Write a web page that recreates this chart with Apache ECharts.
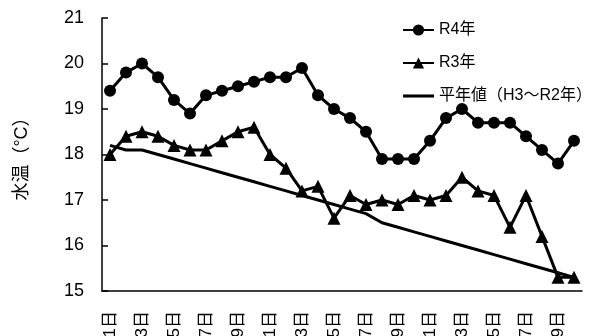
<!DOCTYPE html>
<html>
<head>
<meta charset="utf-8">
<script src="https://cdn.jsdelivr.net/npm/echarts@6/dist/echarts.min.js"></script>
<style>html,body{margin:0;padding:0;background:#fff}#c{width:589px;height:336px}</style>
</head>
<body>
<div id="c"></div>
<script>
const days = Array.from({length: 30}, (_, i) => (i + 1) + '日');
const r4 = [19.4,19.8,20.0,19.7,19.2,18.9,19.3,19.4,19.5,19.6,19.7,19.7,19.9,19.3,19.0,18.8,18.5,17.9,17.9,17.9,18.3,18.8,19.0,18.7,18.7,18.7,18.4,18.1,17.8,18.3];
const r3 = [18.0,18.4,18.5,18.4,18.2,18.1,18.1,18.3,18.5,18.6,18.0,17.7,17.2,17.3,16.6,17.1,16.9,17.0,16.9,17.1,17.0,17.1,17.5,17.2,17.1,16.4,17.1,16.2,15.3,15.3];
const normal = [18.2,18.1,18.1,18.0,17.9,17.8,17.7,17.6,17.5,17.4,17.3,17.2,17.1,17.0,16.9,16.8,16.7,16.5,16.4,16.3,16.2,16.1,16.0,15.9,15.8,15.7,15.6,15.5,15.4,15.3];
const names = ['R4年', 'R3年', '平年値（H3〜R2年）'];
const yAxisName = '水温（°C）';

const font = 'Liberation Sans, Arial, Noto Sans CJK JP, sans-serif';
const chart = echarts.init(document.getElementById('c'), null, {renderer: 'canvas'});
chart.setOption({
  animation: false,
  backgroundColor: '#fff',
  textStyle: {fontFamily: font, color: '#000'},
  grid: {left: 102, right: 7, top: 18, bottom: 45, containLabel: false, outerBoundsMode: 'none'},
  legend: {
    orient: 'vertical', left: 397, top: 17,
    itemWidth: 31, itemHeight: 14, itemGap: 17,
    textStyle: {fontSize: 16, color: '#000', fontFamily: font},
    data: [
      {name: names[0]},
      {name: names[1]},
      {name: names[2], icon: 'path://M0,0 L20,0 L20,2 L0,2 Z'}
    ]
  },
  xAxis: {
    type: 'category', data: days, boundaryGap: true,
    axisLine: {lineStyle: {color: '#000', width: 1.5}},
    axisTick: {inside: true, length: 6, interval: 0, lineStyle: {color: '#000', width: 1.5}},
    axisLabel: {interval: 1, rotate: 90, margin: 20, fontSize: 17, color: '#000', fontFamily: font}
  },
  yAxis: {
    type: 'value', min: 15, max: 21, interval: 1,
    name: yAxisName, nameLocation: 'middle', nameGap: 71, nameRotate: 90,
    nameTextStyle: {fontSize: 18, color: '#000', fontFamily: font},
    axisLine: {show: true, lineStyle: {color: '#000', width: 1.5}},
    axisTick: {show: true, inside: true, length: 6, lineStyle: {color: '#000', width: 1.5}},
    axisLabel: {margin: 18, fontSize: 18, color: '#000', fontFamily: font},
    splitLine: {show: false}
  },
  series: [
    {name: names[0], type: 'line', data: r4, symbol: 'circle', symbolSize: 12, showAllSymbol: true,
     lineStyle: {color: '#000', width: 3}, itemStyle: {color: '#000'}},
    {name: names[1], type: 'line', data: r3, symbol: 'triangle', symbolSize: 13, showAllSymbol: true,
     lineStyle: {color: '#000', width: 3}, itemStyle: {color: '#000'}},
    {name: names[2], type: 'line', data: normal, symbol: 'none',
     lineStyle: {color: '#000', width: 3}, itemStyle: {color: '#000'}}
  ]
});
</script>
</body>
</html>
